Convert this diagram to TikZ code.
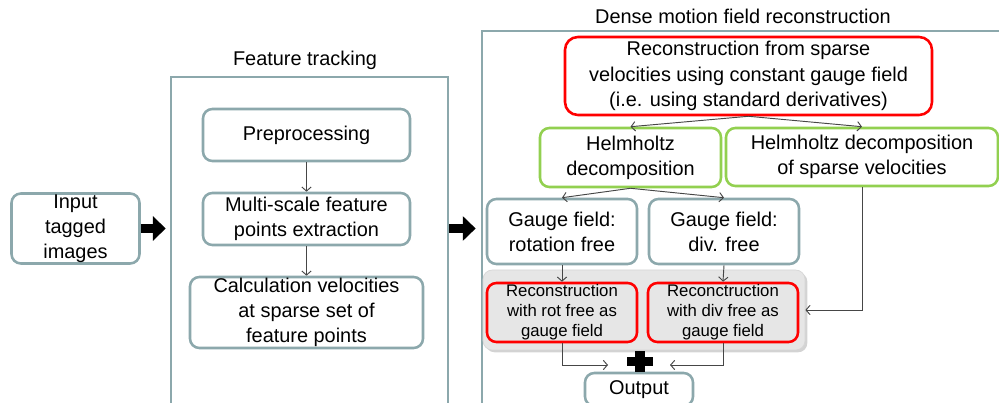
\documentclass[tikz,border=0pt]{standalone}
\usepackage{fontspec}
\setmainfont{Liberation Sans}
\usetikzlibrary{arrows.meta,shadows}
\newlength\pxu \setlength\pxu{0.03cm}
\definecolor{boxgray}{RGB}{140,168,172}
\definecolor{boxred}{RGB}{255,0,0}
\definecolor{boxgreen}{RGB}{146,208,80}
\definecolor{linegray}{RGB}{70,70,70}
\definecolor{groupfill}{RGB}{230,230,230}
\begin{document}
\begin{tikzpicture}[x=0.03cm,y=-0.03cm,
  base/.style={rounded corners=8pt, line width=2.2pt, fill=white, align=center, inner sep=0pt, font=\fontsize{17pt}{21.5pt}\selectfont},
  graybox/.style={base, draw=boxgray},
  redbox/.style={base, draw=boxred},
  greenbox/.style={base, draw=boxgreen},
  smalltext/.style={font=\fontsize{14.3pt}{17pt}\selectfont},
  wh/.style 2 args={minimum width=#1*\pxu, minimum height=#2*\pxu},
  frame/.style={draw=boxgray, line width=2.2pt, inner sep=0pt},
  conn/.style={draw=linegray, line width=0.8pt, -{Straight Barb[length=3.5pt,width=8pt]}},
  block/.style={line width=8.5pt, -{Triangle[length=11pt,width=20.5pt]}},
  title/.style={font=\fontsize{17pt}{21.5pt}\selectfont}
]
\useasboundingbox (0,0) rectangle (999,403);
\clip (0,0) rectangle (999,403);

% frames
\node[frame, wh={277}{333}] (ft) at (309.5,243.5) {};
\node[frame, wh={528}{379}] (dense) at (746,220.5) {};
\node[title] (fttitle) at (305,60) {Feature tracking};
\node[title] (densetitle) at (743,16) {Dense motion field reconstruction};

% left column
\node[graybox, wh={128}{70}] (input) at (75.5,228.5) {Input\\tagged\\images};
\node[graybox, wh={207}{52}] (pre) at (306.5,135) {Preprocessing};
\node[graybox, wh={207}{52}] (multi) at (306.5,219) {Multi-scale feature\\points extraction};
\node[graybox, wh={233}{71}] (calc) at (306.5,312.5) {Calculation velocities\\at sparse set of\\feature points};

% dense column
\node[redbox, rounded corners=11pt, wh={367}{78}] (rec) at (748.5,76) {Reconstruction from sparse\\velocities using constant gauge field\\(i.e. using standard derivatives)};
\node[greenbox, wh={181}{59}] (helmL) at (630.5,157.5) {Helmholtz\\decomposition};
\node[greenbox, wh={272}{58}] (helmR) at (862,157) {Helmholtz decomposition\\of sparse velocities};
\node[graybox, wh={150}{65}] (gaugeL) at (562,231.5) {Gauge field:\\rotation free};
\node[graybox, wh={150}{65}] (gaugeR) at (724,231.5) {Gauge field:\\div. free};

\node[rounded corners=8pt, fill=groupfill, draw=groupfill!85!gray, line width=0.6pt, wh={322}{80},
      drop shadow={opacity=0.35, shadow xshift=2pt, shadow yshift=-2pt}] (group) at (644,310) {};
\node[redbox, fill=groupfill, smalltext, wh={150}{59}] (redL) at (562,312.5) {Reconstruction\\with rot free as\\gauge field};
\node[redbox, fill=groupfill, smalltext, wh={150}{59}] (redR) at (723,312.5) {Reconctruction\\with div free as\\gauge field};

\node[graybox, wh={108}{33}] (out) at (639,389.5) {Output};

% plus sign
\fill (635,351) rectangle (645,372);
\fill (627,357) rectangle (653,366);
\coordinate (pl) at (608,365);
\coordinate (pr) at (670,365);

% block arrows
\draw[block, shorten >=3.4pt] (input.east) -- (input.east -| ft.west);
\draw[block, shorten >=4.3pt] (input.east -| ft.east) -- (input.east -| dense.west);

% connectors
\draw[conn] (pre.south) -- (multi.north);
\draw[conn] (multi.south) -- (calc.north);
\draw[conn] (rec.south) -- (helmL.north);
\draw[conn] (rec.south) -- (helmR.north);
\draw[conn] (helmL.south) -- (gaugeL.north);
\draw[conn] (helmL.south) -- (gaugeR.north);
\draw[conn] (gaugeL.south) -- (redL.north);
\draw[conn] (gaugeR.south) -- (redR.north);
\draw[conn] (helmR.south) |- (group.east);
\draw[conn] (redL.south) |- (pl);
\draw[conn] (redR.south) |- (pr);
\end{tikzpicture}
\end{document}
